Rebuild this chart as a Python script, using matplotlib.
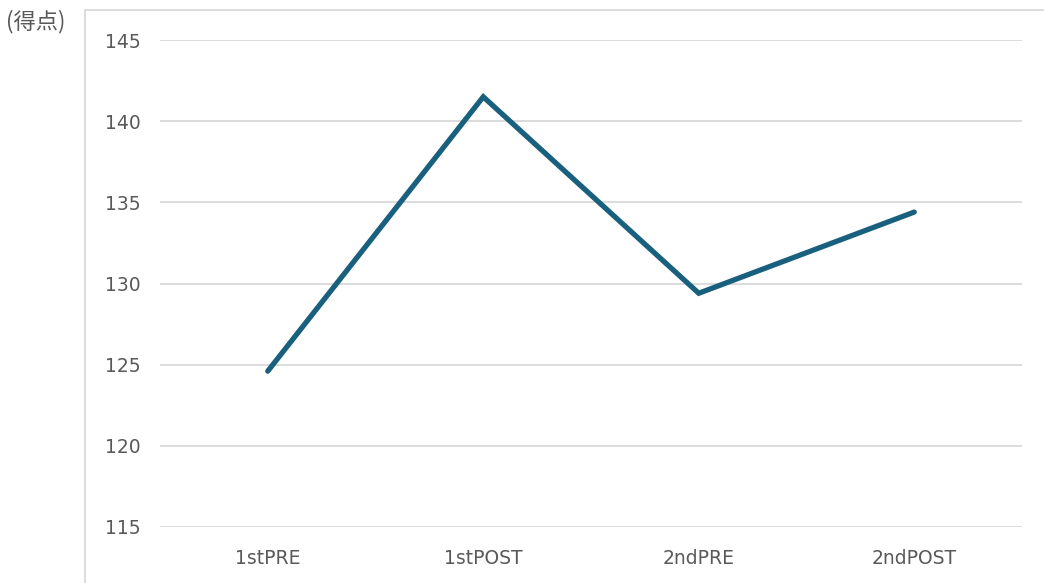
import matplotlib
matplotlib.use("Agg")
import matplotlib.pyplot as plt
from matplotlib.patches import Rectangle

categories = ["1stPRE", "1stPOST", "2ndPRE", "2ndPOST"]
scores = [124.6, 141.5, 129.4, 134.4]
y_ticks = [115, 120, 125, 130, 135, 140, 145]

plt.rcParams["font.family"] = ["DejaVu Sans", "Noto Sans CJK JP"]

W, H = 1044, 583
fig = plt.figure(figsize=(W / 100, H / 100), dpi=100)

# outer chart frame
fig.patches.append(Rectangle((85 / W, -0.01), 1.02, 1 - 10 / H + 0.01,
                             transform=fig.transFigure, fill=False,
                             edgecolor="#d6d6d6", linewidth=1.2))

ax = fig.add_axes([160 / W, 1 - 527 / H, (1022 - 160) / W, (527 - 40) / H])
ax.set_xlim(-0.5, 3.5)
ax.set_ylim(115, 145)
ax.set_yticks(y_ticks)
ax.set_xticks(range(len(categories)))
ax.set_xticklabels(categories)
ax.grid(axis="y", color="#d9d9d9", linewidth=1.3)
ax.set_axisbelow(True)
for s in ax.spines.values():
    s.set_visible(False)
ax.tick_params(axis="both", length=0, labelsize=13.5, colors="#595959")
ax.tick_params(axis="y", pad=14)
ax.tick_params(axis="x", pad=16)
ax.plot(range(len(categories)), scores, color="#19607e", linewidth=3.8,
        solid_joinstyle="miter", solid_capstyle="round", clip_on=False)

fig.text(6 / W, 1 - 22 / H, "(得点)", fontsize=16, color="#595959",
         family=["Noto Sans CJK JP", "DejaVu Sans"], va="center", ha="left")

fig.savefig("out.png", dpi=100)
